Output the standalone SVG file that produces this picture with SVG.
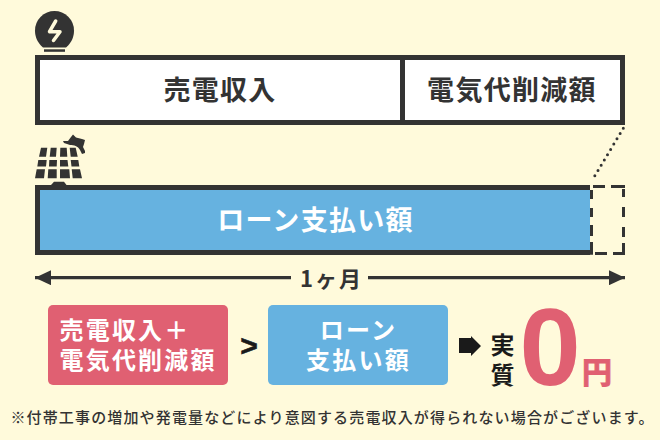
<svg xmlns="http://www.w3.org/2000/svg" width="660" height="440" viewBox="0 0 660 440">
<style>
text{font-family:"Noto Sans CJK JP","Noto Sans",sans-serif;text-anchor:middle}
.d{fill:#333}
.big{font-size:27px;font-weight:700;letter-spacing:1.300px;fill:#333}
.w{font-size:27px;font-weight:700;letter-spacing:1.300px;fill:#fff}
.s{font-size:24px;font-weight:700;letter-spacing:2.200px;fill:#fff}
.k{font-size:24px;font-weight:700;fill:#1a1a1a}
.box{stroke:#333;stroke-width:5}
</style>
<defs>
<marker id="ah" markerUnits="userSpaceOnUse" markerWidth="16" markerHeight="15" refX="16" refY="7.500" orient="auto-start-reverse"><path d="M0 0L16 7.500L0 15Z" fill="#333"/></marker>
</defs>
<rect width="660" height="440" fill="#fffadb"/>
<g id="bulb">
<path class="d" d="M43 47.500C37.500 43 35 37 35 30.500A19.500 19.500 0 0 1 74 30.500C74 37 71.500 43 66 47.500Z"/>
<rect class="d" x="44" y="49.300" width="21" height="2.500"/>
<path d="M55.700 21L49.500 31.700H60L53.500 40.500" fill="none" stroke="#fffadb" stroke-width="3.500" stroke-linecap="round" stroke-linejoin="round"/>
</g>
<g id="revenue">
<rect class="box" x="37.500" y="57.500" width="585" height="65" fill="#fff"/>
<line class="box" x1="402.500" y1="57" x2="402.500" y2="123"/>
<text class="big" x="220" y="100">売電収入</text>
<text class="big" x="512" y="100">電気代削減額</text>
</g>
<g id="solar">
<g class="d">
<path d="M41 147.700H47.300L46 156.700H39Z M50.700 147.700H56.700L56 156.700H49.700Z M60.300 147.700H66.700L67.300 156.700H60Z M69.700 147.700H75.700L77.700 156.700H70.700Z"/>
<path d="M38.300 160H46.700L46 166.500H37.300Z M49.300 160H57L56.700 166.500H49Z M60 160H67.500L68.300 166.500H60Z M70.700 160H78.300L79.300 166.500H71.500Z"/>
<path d="M36.700 169.300H45L44 178.300H35Z M48.300 169.300H56.700V178.300H47.700Z M60 169.300H69.300L70 178.300H60Z M71.700 169.300H80L82 178.300H72.700Z"/>
<path d="M51 185L54 181.700H64L66.500 185Z"/>
<path d="M63 141L68 141L71 137L73 134.500L76 137.500L82 139L85 140L84 144L83 147L85 151L85 153L82 154L80 150C78 146 74 145 70 145L64 143Z"/>
</g>
</g>
<g id="loan">
<path d="M590 187.500H37.500V252.500H590" fill="#66b2e0" class="box"/>
<text class="w" x="315.500" y="230">ローン支払い額</text>
</g>
<g id="gap">
<path d="M591.500 190V199M591.500 208V217M591.500 225V236M591.500 242V254.700M623.500 189V197M623.500 207V217M623.500 227V237M623.500 243V254.700M593 186.500H605M611 186.500H625M595 253.500H607M613 253.500H625" fill="none" stroke="#333" stroke-width="3"/>
</g>
<g id="connectors">
<line x1="623.300" y1="128.300" x2="591.700" y2="181" stroke="#333" stroke-width="3" stroke-linecap="round" stroke-dasharray="0 6.150"/>
<line x1="35" y1="277.700" x2="291" y2="277.700" stroke="#333" stroke-width="3.200" marker-start="url(#ah)"/>
<line x1="368" y1="277.700" x2="625" y2="277.700" stroke="#333" stroke-width="3.200" marker-end="url(#ah)"/>
</g>
<g id="month">
<text x="331.500" y="287" font-size="22" font-weight="700" fill="#333" letter-spacing="2">1ヶ月</text>
</g>
<g id="pink">
<rect x="48" y="305" width="180" height="80" rx="5" fill="#e06072"/>
<text class="s" style="text-anchor:start" y="339"><tspan x="59.500">売電収入＋</tspan><tspan x="59.500" y="369">電気代削減額</tspan></text>
</g>
<g id="gt"><text x="249" y="356" font-size="30" font-weight="700" fill="#1a1a1a" stroke="#1a1a1a" stroke-width="0.600" style="font-family:'Liberation Sans',sans-serif">&gt;</text></g>
<g id="bluebox">
<rect x="268" y="305" width="180" height="80" rx="5" fill="#66b2e0"/>
<text class="s" y="339"><tspan x="358.500">ローン</tspan><tspan x="358.500" y="369">支払い額</tspan></text>
</g>
<g id="arrow"><path d="M459 338H471V336L481 346L471 356V353H459Z" fill="#1a1a1a"/></g>
<g id="result">
<text class="k" x="502.500" y="354"><tspan>実</tspan><tspan x="502.500" y="384">質</tspan></text>
<text x="550" y="385" font-size="110" font-weight="700" fill="#e06072" style="font-family:'Liberation Sans',sans-serif">0</text>
<text x="597" y="383" font-size="30" font-weight="700" fill="#e06072" stroke="#e06072" stroke-width="1">円</text>
</g>
<g id="note">
<text x="332.500" y="423" font-size="15" font-weight="500" letter-spacing="1.150" fill="#333">※付帯工事の増加や発電量などにより意図する売電収入が得られない場合がございます。</text>
</g>
</svg>
